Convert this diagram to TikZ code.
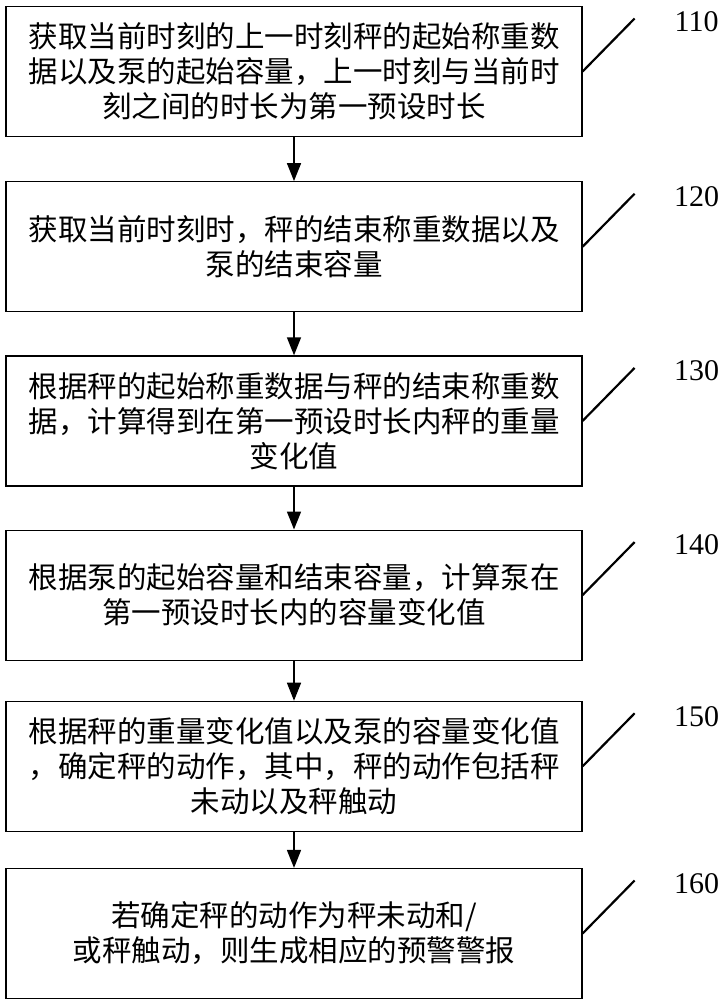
\documentclass[tikz,border=0pt]{standalone}
\usepackage{fontspec}
\setmainfont{Liberation Serif}
\newfontfamily\cjk{Noto Sans CJK SC}
\usetikzlibrary{arrows.meta, positioning, calc}
\tikzstyle{block} = [rectangle, draw, line width=1.2pt, text width=540pt, inner xsep=18pt,
     align=center, minimum height=130pt, font=\cjk\fontsize{29.5}{35}\selectfont]
\tikzstyle{arrow} = [line width=1.6pt, -{Triangle[length=18pt,width=14pt]}]
\tikzstyle{slash} = [line width=2.2pt]
\tikzstyle{num} = [font=\fontsize{30}{32}\selectfont]

\begin{document}
\begin{tikzpicture}
     \useasboundingbox (0,0) rectangle (723pt,-1000pt);
     % Nodes
     \node [block] (s110) at (294pt,-71.5pt) {获取当前时刻的上一时刻秤的起始称重数\\据以及泵的起始容量，上一时刻与当前时\\刻之间的时长为第一预设时长};
     \node [block, below=44pt of s110] (s120) {获取当前时刻时，秤的结束称重数据以及\\泵的结束容量};
     \node [block, below=43pt of s120] (s130) {根据秤的起始称重数据与秤的结束称重数\\据，计算得到在第一预设时长内秤的重量\\变化值};
     \node [block, below=43pt of s130] (s140) {根据泵的起始容量和结束容量，计算泵在\\第一预设时长内的容量变化值};
     \node [block, below=40pt of s140] (s150) {根据秤的重量变化值以及泵的容量变化值\\，确定秤的动作，其中，秤的动作包括秤\\未动以及秤触动};
     \node [block, below=36pt of s150] (s160) {若确定秤的动作为秤未动和/\\或秤触动，则生成相应的预警警报};

     % Step numbers
     \node [num] (n110) at ($(s110.east)+(114pt,50pt)$) {110};
     \node [num] (n120) at ($(s120.east)+(114pt,50pt)$) {120};
     \node [num] (n130) at ($(s130.east)+(114pt,50pt)$) {130};
     \node [num] (n140) at ($(s140.east)+(114pt,50pt)$) {140};
     \node [num] (n150) at ($(s150.east)+(114pt,50pt)$) {150};
     \node [num] (n160) at ($(s160.east)+(114pt,50pt)$) {160};
     \coordinate [above right=53pt and 52pt of s110.east] (t110);
     \coordinate [above right=53pt and 52pt of s120.east] (t120);
     \coordinate [above right=53pt and 52pt of s130.east] (t130);
     \coordinate [above right=53pt and 52pt of s140.east] (t140);
     \coordinate [above right=53pt and 52pt of s150.east] (t150);
     \coordinate [above right=53pt and 52pt of s160.east] (t160);

     % Arrows
     \draw [arrow] (s110) -- (s120);
     \draw [arrow] (s120) -- (s130);
     \draw [arrow] (s130) -- (s140);
     \draw [arrow] (s140) -- (s150);
     \draw [arrow] (s150) -- (s160);
     \draw [slash] (s110.east) -- (t110);
     \draw [slash] (s120.east) -- (t120);
     \draw [slash] (s130.east) -- (t130);
     \draw [slash] (s140.east) -- (t140);
     \draw [slash] (s150.east) -- (t150);
     \draw [slash] (s160.east) -- (t160);
\end{tikzpicture}
\end{document}
